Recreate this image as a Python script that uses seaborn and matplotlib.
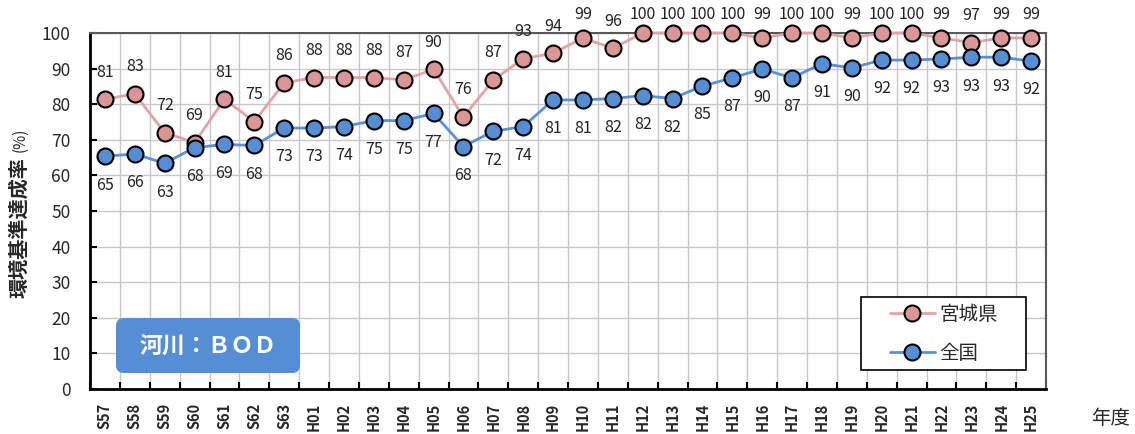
import numpy as np
import pandas as pd
import matplotlib
matplotlib.use("Agg")
import matplotlib.pyplot as plt
from matplotlib.patches import FancyBboxPatch, Rectangle
from matplotlib.ticker import FixedLocator
import seaborn as sns

# données
annees = ["S57", "S58", "S59", "S60", "S61", "S62", "S63",
          "H01", "H02", "H03", "H04", "H05", "H06", "H07", "H08", "H09",
          "H10", "H11", "H12", "H13", "H14", "H15", "H16", "H17", "H18",
          "H19", "H20", "H21", "H22", "H23", "H24", "H25"]
miyagi = [81.4, 82.9, 72.0, 69.2, 81.4, 75.1, 86.0,
          87.5, 87.5, 87.5, 86.8, 89.8, 76.4, 86.8, 92.8, 94.3,
          98.6, 95.7, 100, 100, 100, 100, 98.6, 100, 100,
          98.6, 100, 100, 98.6, 97.3, 98.6, 98.6]
zenkoku = [65.4, 66.0, 63.4, 67.8, 68.7, 68.4, 73.3,
           73.3, 73.7, 75.4, 75.4, 77.4, 68.1, 72.4, 73.7, 81.2,
           81.2, 81.6, 82.4, 81.6, 85.1, 87.4, 89.9, 87.4, 91.4,
           90.2, 92.4, 92.4, 92.7, 93.2, 93.2, 92.1]
series = ["宮城県", "全国"]

df = pd.DataFrame({"pos": np.arange(len(annees)), "annee": annees,
                   "宮城県": miyagi, "全国": zenkoku})

sns.set_theme(style="white")
plt.rcParams["font.family"] = ["Noto Sans CJK JP", "DejaVu Sans"]

W, H = 1135, 434
fig = plt.figure(figsize=(W / 100, H / 100), dpi=100)
ax = fig.add_axes([90 / W, 1 - 389 / H, (1046 - 90) / W, (389 - 33) / H])

couleurs = {"宮城県": ("#E3A3A3", "#D99694"), "全国": ("#5B8FD6", "#558ED5")}
for s in series:
    ligne, face = couleurs[s]
    sns.lineplot(data=df, x="pos", y=s, ax=ax, color=ligne, linewidth=2,
                 marker="o", markersize=11.5, markerfacecolor=face,
                 markeredgecolor="black", markeredgewidth=1.5,
                 label=s, clip_on=False, zorder=3)

# étiquettes de valeurs
for i, v in enumerate(miyagi):
    y = min(v + 7.6, 105.1)
    ax.text(i, y, f"{v:.0f}", ha="center", va="center", fontsize=11.5, color="#222222")
for i, v in enumerate(zenkoku):
    ax.text(i, v - 8.1, f"{v:.0f}", ha="center", va="center", fontsize=11.5, color="#222222")

ax.set_xlim(-0.5, len(annees) - 0.5)
ax.set_ylim(0, 100)
ax.set_yticks(np.arange(0, 101, 10))
ax.set_xticks(np.arange(len(annees)))
ax.set_xticklabels(annees, rotation=90, fontsize=10.5, fontweight="bold")
ax.xaxis.set_minor_locator(FixedLocator(np.arange(len(annees) + 1) - 0.5))
ax.tick_params(axis="x", which="major", length=0, pad=10)
ax.tick_params(axis="x", which="minor", direction="in", length=5, width=1.5, color="black", bottom=True)
ax.tick_params(axis="y", direction="in", length=5, width=1.5, color="black", left=True,
               labelsize=12.5, pad=14)
ax.grid(True, which="minor", axis="x", color="#C8C8C8", linewidth=1)
ax.grid(True, which="major", axis="y", color="#C8C8C8", linewidth=1)
ax.grid(False, which="major", axis="x")
ax.set_axisbelow(True)
ax.set_xlabel("")
ax.set_ylabel("")

for cote in ["left", "bottom"]:
    ax.spines[cote].set_color("black")
    ax.spines[cote].set_linewidth(2)
for cote in ["top", "right"]:
    ax.spines[cote].set_color("#595959")
    ax.spines[cote].set_linewidth(1.5)

# légende : cadre dessiné à part pour garder les marges d'origine
handles, labels = ax.get_legend_handles_labels()
if ax.get_legend() is not None:
    ax.get_legend().remove()
cadre = Rectangle((861 / W, 1 - 370 / H), 165 / W, 73 / H, transform=fig.transFigure,
                  facecolor="white", edgecolor="black", linewidth=1.2, zorder=4)
fig.patches.append(cadre)
leg = fig.legend(handles, labels, loc="center left", bbox_to_anchor=(890 / W, 1 - 334 / H),
                 bbox_transform=fig.transFigure, fontsize=14, frameon=False,
                 handlelength=2.3, labelspacing=0.9, borderpad=0, borderaxespad=0,
                 handletextpad=0.25)
leg.set_zorder(6)

# encadré "河川：ＢＯＤ"
boite = FancyBboxPatch((116 / W, 1 - 373 / H), 184 / W, 55 / H,
                       boxstyle="round,pad=0,rounding_size=0.007",
                       mutation_aspect=W / H, transform=fig.transFigure,
                       facecolor="#558ED5", edgecolor="none", zorder=5)
fig.patches.append(boite)
fig.text(208 / W, 1 - 346 / H, "河川：ＢＯＤ", ha="center", va="center",
         fontsize=16.5, fontweight="bold", color="white", zorder=6)

fig.text(19 / W, 1 - 298 / H, "環境基準達成率", rotation=90, ha="center", va="bottom",
         fontsize=14.5, fontweight="bold")
fig.text(20 / W, 1 - 152 / H, "(%)", rotation=90, ha="center", va="bottom",
         fontsize=11)
fig.text(1111 / W, 1 - 418 / H, "年度", ha="center", va="center", fontsize=14)

fig.savefig("out.png", dpi=100)
